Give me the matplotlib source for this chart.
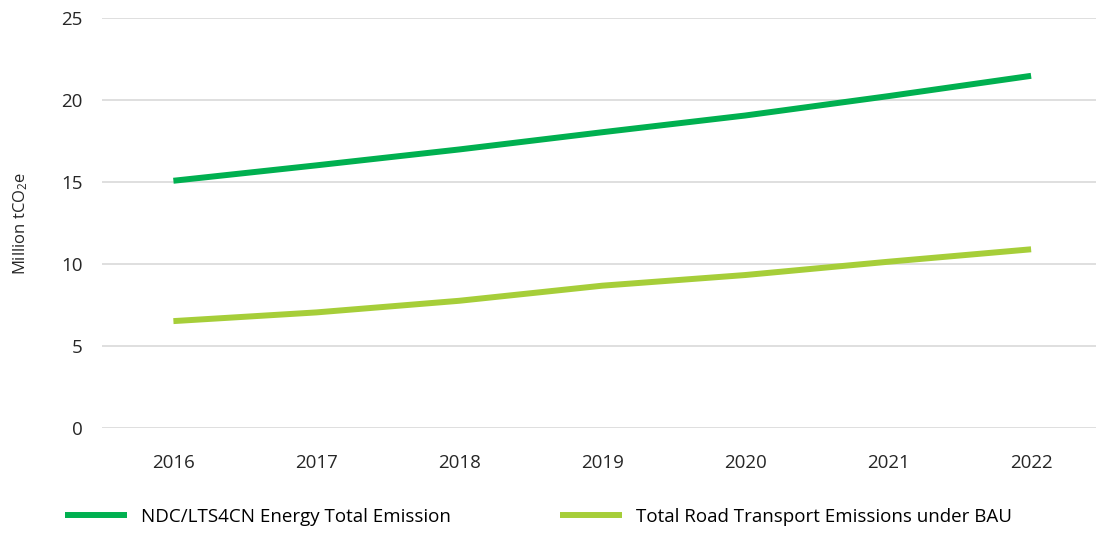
import matplotlib
matplotlib.use("Agg")
from matplotlib import pyplot as plt

plt.rcParams['font.family'] = ['Open Sans', 'DejaVu Sans']
plt.rcParams['mathtext.default'] = 'regular'

years = ["2016", "2017", "2018", "2019", "2020", "2021", "2022"]
ndc_energy = [15.08, 16.02, 16.99, 18.04, 19.06, 20.24, 21.48]
road_bau = [6.52, 7.05, 7.76, 8.68, 9.33, 10.14, 10.90]

fig = plt.figure(figsize=(10.96, 5.33), dpi=100)
ax = fig.add_axes([0.093, 0.197, 0.913, 0.769])

x = list(range(len(years)))
ax.plot(x, ndc_energy, color="#00B050", linewidth=4.3, solid_capstyle="butt",
        label="NDC/LTS4CN Energy Total Emission")
ax.plot(x, road_bau, color="#A6CE39", linewidth=4.3, solid_capstyle="butt",
        label="Total Road Transport Emissions under BAU")

ax.set_xlim(-0.5, len(years) - 0.5)
ax.set_ylim(0, 25)
ax.set_yticks([0, 5, 10, 15, 20, 25])
ax.set_xticks(x)
ax.set_xticklabels(years)
ax.grid(axis="y", color="#D9D9D9", linewidth=1.2)
ax.set_axisbelow(True)
for s in ax.spines.values():
    s.set_visible(False)
ax.tick_params(axis="both", length=0, labelsize=13.5, colors="#262626")
ax.tick_params(axis="x", pad=19)
ax.tick_params(axis="y", pad=14)
ax.set_ylabel("Million tCO$_2$e", fontsize=12, color="#262626", labelpad=22)

fig.legend(loc="center left", bbox_to_anchor=(0.044, 0.03), ncol=2, frameon=False,
           fontsize=13.5, handlelength=3.3, columnspacing=5.8, handletextpad=0.75)

fig.savefig("out.png", dpi=100)
